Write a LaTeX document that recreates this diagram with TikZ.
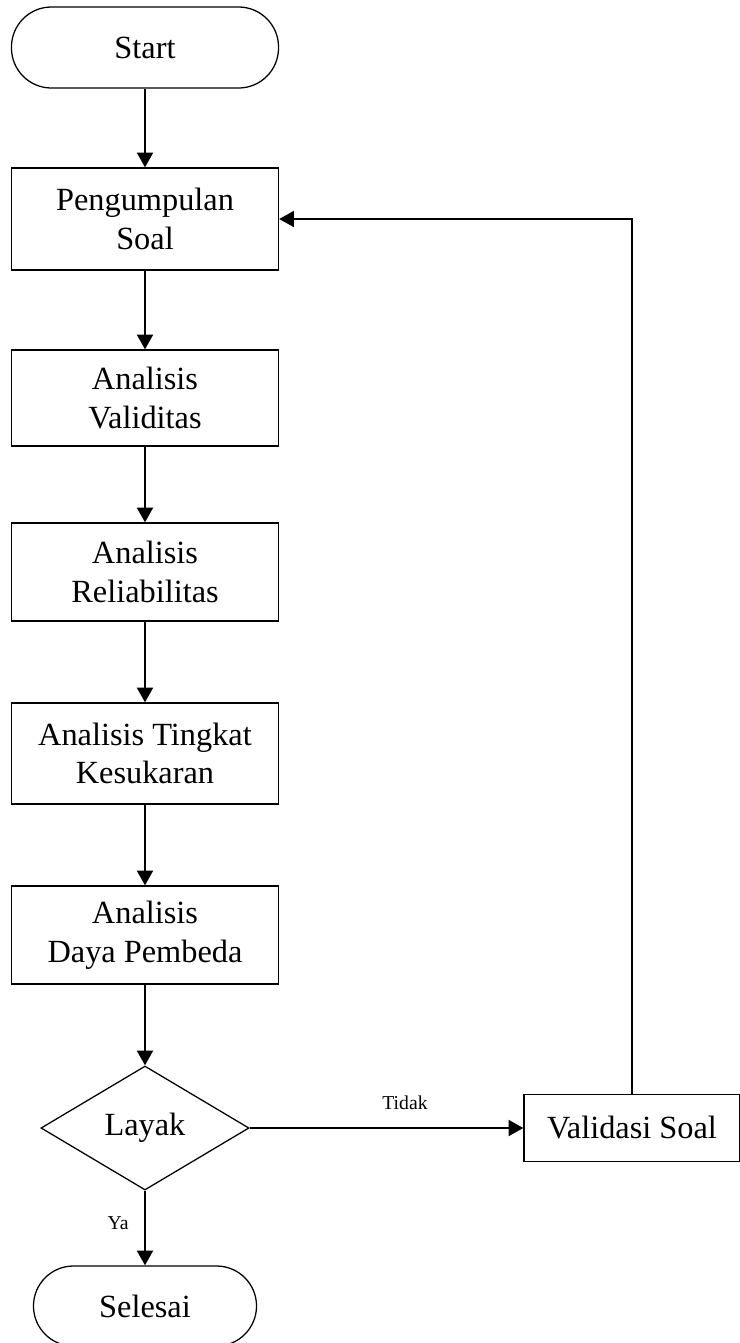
\documentclass[tikz,border=0pt]{standalone}
\usepackage{fontspec}
\setmainfont{Liberation Serif}
\usetikzlibrary{shapes.geometric,arrows.meta}

\tikzset{
  box/.style={draw, line width=0.9pt, align=center, minimum width=6.675cm, inner sep=2pt, font=\fontsize{23}{27.5}\selectfont},
  term/.style={box, rounded corners=1cm},
  flow/.style={-{Triangle[length=0.37cm,width=0.4cm]}, line width=1.5pt},
  lbl/.style={font=\fontsize{14}{16}\selectfont},
}

\begin{document}
\begin{tikzpicture}[x=0.025cm, y=-0.025cm]
\useasboundingbox (0,0) rectangle (740,1343);

\def\xm{145}
\def\xv{632}

\def\ya{47.5}
\def\yb{219}
\def\yc{398}
\def\yd{572}
\def\ye{753.5}
\def\yf{935}
\def\yg{1128}
\def\yh{1306}

\node[term, minimum height=2.025cm] (start) at (\xm, \ya) {Start};
\node[box, minimum height=2.55cm] (kumpul) at (\xm, \yb) {Pengumpulan\\Soal};
\node[box, minimum height=2.4cm] (valid) at (\xm, \yc) {Analisis\\Validitas};
\node[box, minimum height=2.45cm] (reliab) at (\xm, \yd) {Analisis\\Reliabilitas};
\node[box, minimum height=2.525cm] (tingkat) at (\xm, \ye) {Analisis Tingkat\\Kesukaran};
\node[box, minimum height=2.45cm] (daya) at (\xm, \yf) {Analisis\\Daya Pembeda};

\node[diamond, draw, line width=0.9pt, aspect=1.7, inner sep=0pt, minimum width=5.2cm, minimum height=3.1cm, font=\fontsize{23}{27.5}\selectfont] (layak) at (\xm, \yg) {Layak};
\node[box, minimum width=5.4cm, minimum height=1.675cm] (validasi) at (\xv, \yg) {Validasi Soal};
\node[term, minimum width=5.575cm, minimum height=2cm] (selesai) at (\xm, \yh) {Selesai};

\node[lbl] (tidak) at (405, 1103) {Tidak};
\node[lbl] (ya) at (118, 1223) {Ya};

\coordinate (balik) at (\xv, \yb);

\draw[flow] (start) -- (kumpul);
\draw[flow] (kumpul) -- (valid);
\draw[flow] (valid) -- (reliab);
\draw[flow] (reliab) -- (tingkat);
\draw[flow] (tingkat) -- (daya);
\draw[flow] (daya) -- (layak);
\draw[flow] (layak) -- (validasi);
\draw[flow] (layak) -- (selesai);
\draw[flow, line width=1.2pt] (validasi.north) -- (balik) -- (kumpul.east);

\end{tikzpicture}
\end{document}
